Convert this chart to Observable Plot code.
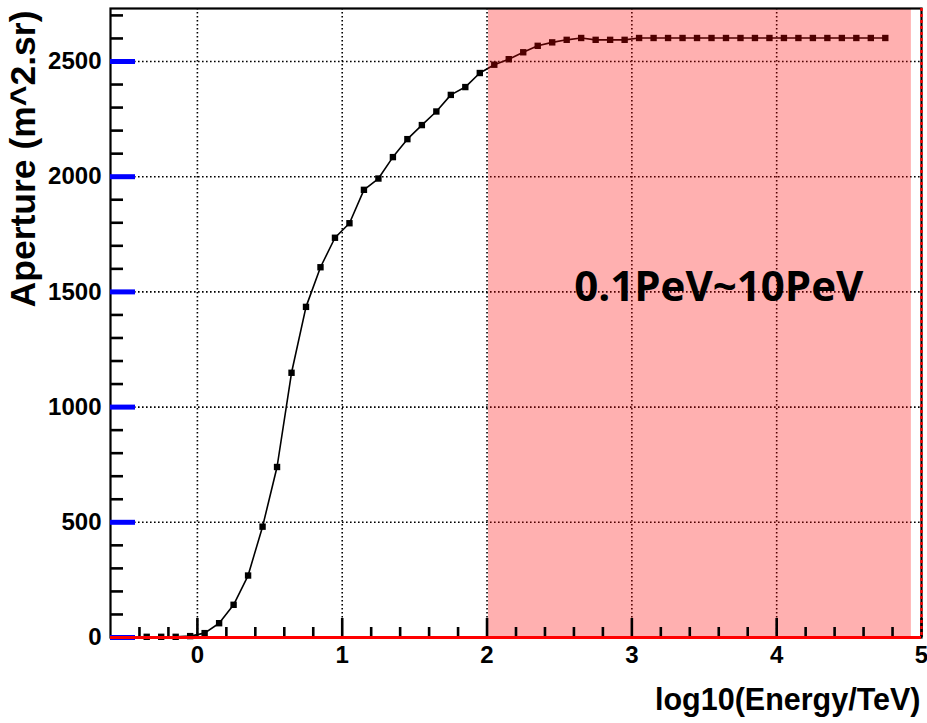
<!DOCTYPE html>
<html>
<head>
<meta charset="utf-8">
<script src="https://cdn.jsdelivr.net/npm/d3@7"></script>
<script src="https://cdn.jsdelivr.net/npm/@observablehq/plot@0.6"></script>
<style>
  html, body { margin: 0; padding: 0; background: #ffffff; }
  #chart svg { display: block; font-family: 'Liberation Sans', Arial, Helvetica, sans-serif; }
</style>
</head>
<body>
<div id="chart"></div>
<script>
// Data
const energy = [-0.35, -0.25, -0.15, -0.05, 0.05, 0.15, 0.25, 0.35, 0.45, 0.55,
  0.65, 0.75, 0.85, 0.95, 1.05, 1.15, 1.25, 1.35, 1.45, 1.55,
  1.65, 1.75, 1.85, 1.95, 2.05, 2.15, 2.25, 2.35, 2.45, 2.55,
  2.65, 2.75, 2.85, 2.95, 3.05, 3.15, 3.25, 3.35, 3.45, 3.55,
  3.65, 3.75, 3.85, 3.95, 4.05, 4.15, 4.25, 4.35, 4.45, 4.55,
  4.65, 4.75];
const aperture = [3, 3, 3, 6, 19, 62, 142, 269, 481, 740,
  1149, 1435, 1607, 1735, 1798, 1943, 1992, 2085, 2163, 2224,
  2283, 2355, 2389, 2450, 2486, 2510, 2540, 2568, 2583, 2594,
  2602, 2594, 2594, 2594, 2602, 2602, 2602, 2602, 2602, 2602,
  2602, 2602, 2602, 2602, 2602, 2602, 2602, 2602, 2602, 2602,
  2602, 2602];

const xMajorTicks = [0, 1, 2, 3, 4, 5];
const xMinorTicks = [-0.4, -0.2, 0.2, 0.4, 0.6, 0.8, 1.2, 1.4, 1.6, 1.8, 2.2, 2.4, 2.6, 2.8,
  3.2, 3.4, 3.6, 3.8, 4.2, 4.4, 4.6, 4.8];
const yMajorTicks = [0, 500, 1000, 1500, 2000, 2500];
const yMinorTicks = [100, 200, 300, 400, 600, 700, 800, 900, 1100, 1200, 1300, 1400,
  1600, 1700, 1800, 1900, 2100, 2200, 2300, 2400, 2600, 2700];
const xGrid = [0, 1, 2, 3, 4];
const yGrid = [500, 1000, 1500, 2000, 2500];

const xDomain = [-0.6, 5];
const yDomain = [0, 2730];

// highlighted band (log10 E from 2 to ~4.93)
const bandX1 = [2.01];
const bandX2 = [4.93];
const bandLabel = ["0.1PeV~10PeV"];
const bandLabelPos = [{x: 3.6, y: 1520}];

const xTitle = "log10(Energy/TeV)";
const yTitle = "Aperture (m^2.sr)";

const data = energy.map((e, i) => ({e, a: aperture[i]}));
const band = bandX1.map((x1, i) => ({x1, x2: bandX2[i]}));

const W = 927, H = 723;
const mL = 110, mR = 6, mT = 8, mB = 86;
const frameW = W - mL - mR, frameH = H - mT - mB;

const fmt = d => String(d);

const chart = Plot.plot({
  width: W,
  height: H,
  marginLeft: mL,
  marginRight: mR,
  marginTop: mT,
  marginBottom: mB,
  x: {domain: xDomain, axis: null},
  y: {domain: yDomain, axis: null},
  marks: [
    // dotted grid
    Plot.ruleX(xGrid, {x: d => d, stroke: "#000", strokeWidth: 1.6, strokeDasharray: "1.6,2.4"}),
    Plot.ruleY(yGrid, {y: d => d, stroke: "#000", strokeWidth: 1.6, strokeDasharray: "1.6,2.4"}),
    // curve and markers
    Plot.line(data, {x: "e", y: "a", stroke: "#000", strokeWidth: 1.6}),
    Plot.dot(data, {x: "e", y: "a", symbol: "square", r: 3.6, fill: "#000", stroke: "none"}),
    // translucent red band drawn over
    Plot.rectX(band, {x1: "x1", x2: "x2", y1: yDomain[0], y2: yDomain[1], fill: "#ff0000", fillOpacity: 0.31}),
    // frame
    Plot.frame({stroke: "#000", strokeWidth: 2.2}),
    // inward ticks (rules trimmed with insets to the tick length)
    Plot.ruleY(yMajorTicks, {y: d => d, insetRight: frameW - 25, stroke: "#0000ff", strokeWidth: 5}),
    Plot.ruleY(yMinorTicks, {y: d => d, insetRight: frameW - 13, stroke: "#000", strokeWidth: 2.6}),
    Plot.ruleX(xMajorTicks, {x: d => d, insetTop: frameH - 19, stroke: "#000", strokeWidth: 2.6}),
    Plot.ruleX(xMinorTicks, {x: d => d, insetTop: frameH - 10, stroke: "#000", strokeWidth: 2.6}),
    Plot.ruleY([0], {stroke: "#ff0000", strokeWidth: 3}),
    Plot.ruleX([5], {stroke: "#ff0000", strokeWidth: 2.4, strokeDasharray: "3,3"}),
    // tick labels
    Plot.axisY({ticks: yMajorTicks, tickSize: 0, tickPadding: 9, tickFormat: fmt, label: null, fontSize: 24, fontWeight: "bold", fill: "#000"}),
    Plot.axisX({ticks: xMajorTicks, tickSize: 0, tickPadding: 8, tickFormat: fmt, label: null, fontSize: 24, fontWeight: "bold", fill: "#000"}),
    // axis titles
    Plot.text([yTitle], {frameAnchor: "top-left", text: d => d, rotate: -90, textAnchor: "end", lineAnchor: "middle", dx: -87, dy: 2, fontSize: 35.5, fontWeight: "bold", fill: "#000"}),
    Plot.text([xTitle], {frameAnchor: "bottom-right", text: d => d, textAnchor: "end", lineAnchor: "middle", dx: -1, dy: 63, fontSize: 30.5, fontWeight: "bold", fill: "#000"}),
    // band label
    Plot.text(bandLabelPos, {x: "x", y: "y", text: (d, i) => bandLabel[i], textAnchor: "middle", lineAnchor: "middle", fontSize: 42, fontWeight: "bold", fontFamily: "'Open Sans', sans-serif", fill: "#000"})
  ]
});

document.getElementById("chart").appendChild(chart);
</script>
</body>
</html>
